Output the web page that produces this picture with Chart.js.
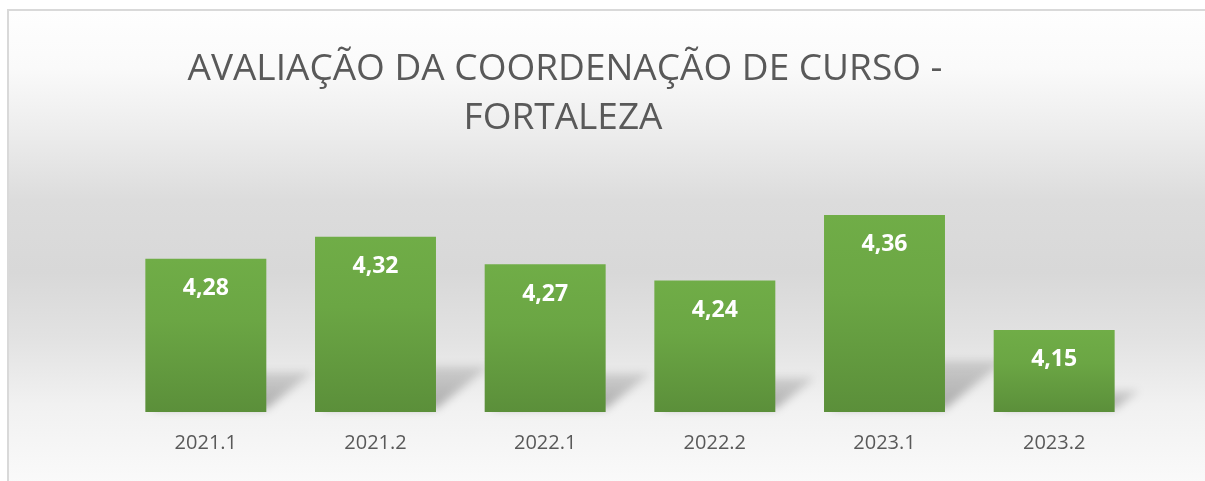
<!DOCTYPE html>
<html>
<head>
<meta charset="utf-8">
<script src="https://cdn.jsdelivr.net/npm/chart.js@4.4.1/dist/chart.umd.min.js"></script>
<style>
  html, body { margin: 0; padding: 0; background: #fff; }
  #wrap { position: relative; width: 1205px; height: 481px; overflow: hidden; }
  #frame {
    position: absolute; left: 7px; top: 9px; right: -4px; bottom: -4px;
    border-left: 2px solid #d9d9d9; border-top: 2px solid #d9d9d9;
    background: linear-gradient(to bottom, #fefefe 0%, #fafafa 12%, #ececec 26%, #dcdcdc 40%, #d8d8d8 55%, #e2e2e2 69%, #f1f1f1 83%, #fafafa 100%);
  }
  canvas { position: absolute; left: 0; top: 0; }
</style>
</head>
<body>
<div id="wrap">
  <div id="frame"></div>
  <canvas id="chart" width="1205" height="481"></canvas>
</div>
<script>
// data
const semesters = ["2021.1", "2021.2", "2022.1", "2022.2", "2023.1", "2023.2"];
const scores = [4.28, 4.32, 4.27, 4.24, 4.36, 4.15];
const titleLines = ["AVALIAÇÃO DA COORDENAÇÃO DE CURSO -", "FORTALEZA"];

const FONT = "'Open Sans', 'DejaVu Sans', sans-serif";

/* title drawn at fixed spot, like the office chart */
const titlePlugin = {
  id: "titleText",
  afterDraw(chart) {
    const ctx = chart.ctx;
    ctx.save();
    ctx.fillStyle = "#595959";
    ctx.font = "37px " + FONT;
    ctx.textAlign = "center";
    ctx.textBaseline = "alphabetic";
    ctx.fillText(titleLines[0], 565, 80);
    ctx.fillText(titleLines[1], 563, 129);
    ctx.restore();
  }
};

/* soft perspective shadow, painted underneath the bars (canvas is transparent) */
const shadowPlugin = {
  id: "barShadow",
  afterDatasetsDraw(chart) {
    const ctx = chart.ctx;
    const meta = chart.getDatasetMeta(0);
    const yScale = chart.scales.y;
    const base = yScale.getPixelForValue(yScale.min);
    ctx.save();
    ctx.globalCompositeOperation = "destination-over";
    ctx.filter = "blur(4px)";
    meta.data.forEach((bar, i) => {
      const top = yScale.getPixelForValue(scores[i]);
      const w = bar.width;
      const left = bar.x - w / 2;
      const right = bar.x + w / 2;
      const h = base - top;
      const sh = h * 0.26;
      const dx = h * 0.3;
      const g = ctx.createLinearGradient(0, base, 0, base - sh);
      g.addColorStop(0, "rgba(0,0,0,0.30)");
      g.addColorStop(1, "rgba(0,0,0,0.12)");
      ctx.fillStyle = g;
      ctx.beginPath();
      ctx.moveTo(left + 6, base - 3);
      ctx.lineTo(right, base - 3);
      ctx.lineTo(right + dx, base - sh);
      ctx.lineTo(left + dx, base - sh);
      ctx.closePath();
      ctx.fill();
    });
    ctx.restore();
  }
};

/* value labels inside the bars near the top */
const valuePlugin = {
  id: "valueLabels",
  afterDatasetsDraw(chart) {
    const ctx = chart.ctx;
    const meta = chart.getDatasetMeta(0);
    ctx.save();
    ctx.fillStyle = "#ffffff";
    ctx.font = "bold 23px " + FONT;
    ctx.textAlign = "center";
    ctx.textBaseline = "middle";
    meta.data.forEach((bar, i) => {
      ctx.fillText(scores[i].toFixed(2).replace(".", ","), bar.x, bar.y + 30);
    });
    ctx.restore();
  }
};

new Chart(document.getElementById("chart"), {
  type: "bar",
  data: {
    labels: semesters,
    datasets: [{
      data: scores,
      borderWidth: 0,
      backgroundColor: c => {
        const chart = c.chart;
        if (!chart.chartArea) return "#66a040";
        const y = chart.scales.y;
        const top = y.getPixelForValue(c.raw);
        const bottom = y.getPixelForValue(y.min);
        const g = chart.ctx.createLinearGradient(0, top, 0, bottom);
        g.addColorStop(0, "#70ad47");
        g.addColorStop(0.4, "#6ba644");
        g.addColorStop(1, "#5b8f3a");
        return g;
      }
    }]
  },
  options: {
    responsive: false,
    animation: false,
    layout: { padding: { left: 121, right: 66, top: 193, bottom: 7 } },
    categoryPercentage: 1,
    barPercentage: 0.713,
    plugins: {
      legend: { display: false },
      title: { display: false },
      tooltip: { enabled: false }
    },
    scales: {
      x: {
        grid: { display: false, drawTicks: false },
        border: { display: false },
        ticks: {
          color: "#595959",
          font: { family: FONT, size: 20 },
          padding: 19
        }
      },
      y: {
        display: false,
        min: 4.0,
        max: 4.4
      }
    }
  },
  plugins: [shadowPlugin, valuePlugin, titlePlugin]
});
</script>
</body>
</html>
